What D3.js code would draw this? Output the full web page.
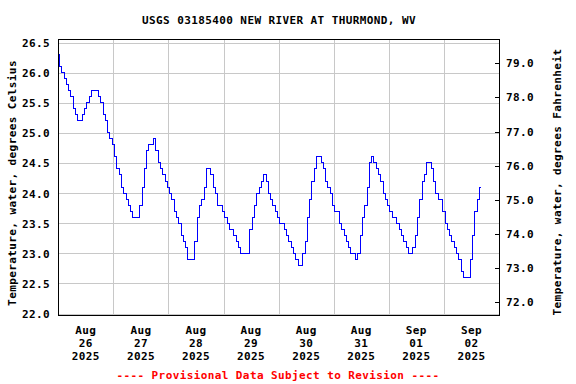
<!DOCTYPE html>
<html>
<head>
<meta charset="utf-8">
<script src="https://cdn.jsdelivr.net/npm/d3@7"></script>
<style>
  body { margin: 0; background: #ffffff; }
  svg text { font-family: "DejaVu Sans Mono", monospace; font-weight: bold; font-size: 11px; letter-spacing: 0.4px; }
</style>
</head>
<body>
<div id="chart"></div>
<script>
// hourly water temperature, deg C, starting Aug 26 2025 00:00
const startTime = new Date(2025, 7, 26, 0, 0);
const tempC = [
  26.3,26.1,26.0,25.9,25.8,25.7,25.6,25.4,25.3,25.2,25.2,25.3,
  25.4,25.5,25.6,25.7,25.7,25.7,25.6,25.5,25.3,25.2,25.0,24.9,
  24.8,24.6,24.4,24.3,24.1,24.0,23.9,23.8,23.7,23.6,23.6,23.6,
  23.8,24.1,24.4,24.7,24.8,24.8,24.9,24.7,24.5,24.4,24.3,24.2,
  24.1,24.0,23.9,23.7,23.6,23.5,23.3,23.2,23.1,22.9,22.9,22.9,
  23.2,23.6,23.8,23.9,24.1,24.4,24.4,24.3,24.1,24.0,23.8,23.8,
  23.7,23.6,23.5,23.4,23.4,23.3,23.2,23.1,23.0,23.0,23.0,23.0,
  23.4,23.6,23.8,24.0,24.1,24.2,24.3,24.2,24.0,23.9,23.8,23.7,
  23.6,23.5,23.5,23.4,23.3,23.2,23.1,23.0,22.9,22.8,22.8,23.0,
  23.2,23.6,23.9,24.2,24.4,24.6,24.6,24.5,24.4,24.2,24.1,24.0,
  23.8,23.7,23.7,23.5,23.4,23.3,23.2,23.1,23.0,23.0,22.9,23.0,
  23.3,23.6,23.8,24.1,24.5,24.6,24.5,24.4,24.3,24.2,24.0,23.9,
  23.8,23.7,23.6,23.6,23.5,23.4,23.3,23.2,23.1,23.0,23.0,23.1,
  23.3,23.6,23.9,24.2,24.3,24.5,24.5,24.4,24.2,24.0,23.9,23.9,
  23.7,23.5,23.4,23.3,23.2,23.1,23.0,22.9,22.7,22.6,22.6,22.6,
  22.9,23.3,23.7,23.9,24.1
];

// axis ticks and labels
const celsiusTicks = [22.0, 22.5, 23.0, 23.5, 24.0, 24.5, 25.0, 25.5, 26.0, 26.5];
const fahrenheitTicks = [72, 73, 74, 75, 76, 77, 78, 79];
const dayMonths = ["Aug", "Aug", "Aug", "Aug", "Aug", "Aug", "Sep", "Sep"];
const dayNumbers = ["26", "27", "28", "29", "30", "31", "01", "02"];
const dayYears = ["2025", "2025", "2025", "2025", "2025", "2025", "2025", "2025"];

const titleText = "USGS 03185400 NEW RIVER AT THURMOND, WV";
const leftTitle = "Temperature, water, degrees Celsius";
const rightTitle = "Temperature, water, degrees Fahrenheit";
const footerText = "---- Provisional Data Subject to Revision ----";

const data = tempC.map(function(v, i) {
  return {time: d3.timeHour.offset(startTime, i), value: v};
});

// plot box
const width = 576, height = 384;
const plot = {left: 58.5, right: 499.5, top: 39.5, bottom: 315.5};

const endTime = d3.timeDay.offset(startTime, 8);

const x = d3.scaleTime()
    .domain([startTime, endTime])
    .range([58.3, 499]);

const y = d3.scaleLinear()
    .domain([22, 26.5])
    .range([313.5, 42.5]);

// fahrenheit axis is drawn on its own scale
const yF = d3.scaleLinear()
    .domain([72, 79])
    .range([302.3, 63.3]);

let svg = d3.select("#chart").append("svg")
    .attr("width", width)
    .attr("height", height);

// title
svg.append("text")
    .attr("x", 279)
    .attr("y", 24)
    .attr("text-anchor", "middle")
    .text(titleText);

// gridlines
let grid = svg.append("g")
    .attr("stroke", "#c8c8c8")
    .attr("stroke-width", 1)
    .attr("shape-rendering", "crispEdges");

grid.selectAll("line.h")
    .data(celsiusTicks)
    .enter().append("line")
    .attr("class", "h")
    .attr("x1", plot.left)
    .attr("x2", plot.right)
    .attr("y1", function(d) { return Math.round(y(d)) + 0.5; })
    .attr("y2", function(d) { return Math.round(y(d)) + 0.5; });

const midnights = d3.timeDay.range(d3.timeDay.offset(startTime, 1), endTime);
grid.selectAll("line.v")
    .data(midnights)
    .enter().append("line")
    .attr("class", "v")
    .attr("y1", plot.top)
    .attr("y2", plot.bottom)
    .attr("x1", function(d) { return Math.round(x(d)) + 0.5; })
    .attr("x2", function(d) { return Math.round(x(d)) + 0.5; });

// the series
const line = d3.line()
    .x(function(d) { return x(d.time); })
    .y(function(d) { return y(d.value); })
    .curve(d3.curveStep);

svg.append("path")
    .datum(data)
    .attr("fill", "none")
    .attr("stroke", "#0000ff")
    .attr("stroke-width", 1)
    .attr("shape-rendering", "crispEdges")
    .attr("d", line);

// frame
svg.append("rect")
    .attr("x", plot.left)
    .attr("y", plot.top)
    .attr("width", plot.right - plot.left)
    .attr("height", plot.bottom - plot.top)
    .attr("fill", "none")
    .attr("stroke", "#000000")
    .attr("shape-rendering", "crispEdges");

// left axis (labels only)
let leftAxis = svg.append("g")
    .attr("transform", "translate(58,0)")
    .call(d3.axisLeft(y).tickValues(celsiusTicks).tickFormat(d3.format(".1f")).tickSize(0).tickPadding(8));
leftAxis.select(".domain").remove();
leftAxis.selectAll("text")
    .attr("dy", null)
    .attr("y", 4)
    .style("font-family", null).style("font-size", null);
leftAxis.attr("font-family", null).attr("font-size", null);

// right axis, ticks point into the plot
let rightAxis = svg.append("g")
    .attr("transform", "translate(499,0)")
    .call(d3.axisRight(yF).tickValues(fahrenheitTicks).tickFormat(d3.format(".1f")).tickSizeInner(-4).tickSizeOuter(0).tickPadding(7));
rightAxis.select(".domain").remove();
rightAxis.selectAll("line").attr("stroke", "#000").attr("shape-rendering", "crispEdges")
    .attr("transform", function() { return "translate(0,0)"; });
rightAxis.selectAll(".tick").attr("transform", function(d) { return "translate(0," + (Math.round(yF(d)) + 0.5) + ")"; });
rightAxis.selectAll("text").attr("dy", null).attr("y", 3.5);
rightAxis.attr("font-family", null).attr("font-size", null);

// date labels, centred at noon of each day
const noons = d3.timeDay.range(startTime, endTime).map(function(d) { return d3.timeHour.offset(d, 12); });
let dateLabels = svg.append("g")
    .selectAll("text")
    .data(noons)
    .enter().append("text")
    .attr("text-anchor", "middle")
    .attr("x", function(d) { return x(d); });
dateLabels.append("tspan")
    .attr("x", function(d) { return x(d); })
    .attr("y", 334)
    .text(function(d, i) { return dayMonths[i]; });
dateLabels.append("tspan")
    .attr("x", function(d) { return x(d); })
    .attr("y", 347)
    .text(function(d, i) { return dayNumbers[i]; });
dateLabels.append("tspan")
    .attr("x", function(d) { return x(d); })
    .attr("y", 360)
    .text(function(d, i) { return dayYears[i]; });

// axis titles
svg.append("text")
    .attr("transform", "translate(16,183) rotate(-90)")
    .attr("text-anchor", "middle")
    .text(leftTitle);

svg.append("text")
    .attr("transform", "translate(561,182) rotate(-90)")
    .attr("text-anchor", "middle")
    .text(rightTitle);

// provisional note
svg.append("text")
    .attr("x", 278)
    .attr("y", 379)
    .attr("text-anchor", "middle")
    .attr("fill", "#ff0000")
    .text(footerText);
</script>
</body>
</html>
